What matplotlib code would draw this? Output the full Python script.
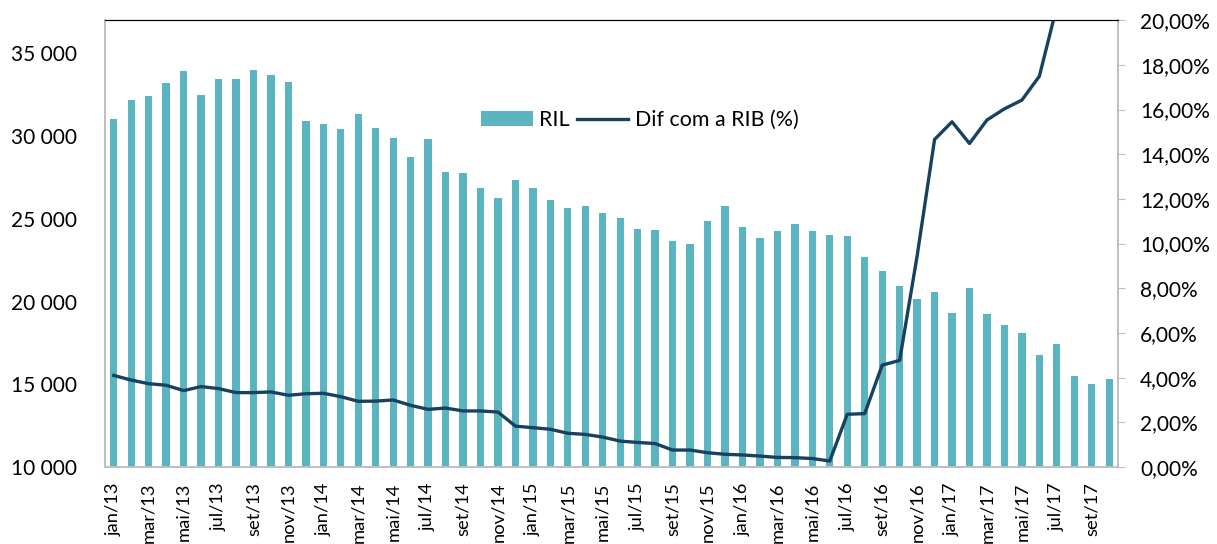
"""
RIL bars with the difference to RIB (%) on a secondary axis.
"""

import matplotlib
matplotlib.use("Agg")
import matplotlib.pyplot as plt
import numpy as np
from matplotlib.ticker import FuncFormatter

plt.rcParams["font.family"] = ["Lato", "DejaVu Sans"]

months = ["jan", "fev", "mar", "abr", "mai", "jun", "jul", "ago", "set", "out", "nov", "dez"]
labels = [f"{m}/{y}" for y in ["13", "14", "15", "16", "17"] for m in months][:58]

ril = [
    31020, 32160, 32420, 33200, 33910, 32480, 33430, 33430, 33970, 33710, 33270, 30890,
    30750, 30430, 31320, 30510, 29850, 28740, 29790, 27830, 27750, 26830, 26240, 27350,
    26830, 26120, 25640, 25760, 25360, 25060, 24370, 24350, 23650, 23470, 24860, 25760,
    24530, 23850, 24250, 24690, 24270, 24010, 23930, 22660, 21820, 20950, 20140, 20590,
    19300, 20810, 19240, 18570, 18090, 16740, 17410, 15500, 15010, 15290,
]

# last three months run off the top of the chart and cannot be read
dif_rib = [
    4.10, 3.89, 3.73, 3.66, 3.42, 3.60, 3.51, 3.33, 3.33, 3.36, 3.21, 3.28,
    3.30, 3.15, 2.94, 2.95, 3.00, 2.76, 2.58, 2.64, 2.51, 2.51, 2.46, 1.83,
    1.76, 1.69, 1.51, 1.46, 1.34, 1.16, 1.10, 1.05, 0.76, 0.76, 0.64, 0.57,
    0.54, 0.49, 0.43, 0.42, 0.38, 0.27, 2.36, 2.39, 4.56, 4.77, 9.44, 14.66,
    15.45, 14.48, 15.53, 16.03, 16.42, 17.49, 20.6, np.nan, np.nan, np.nan,
]

bar_color = "#5AB5C0"
line_color = "#17415F"
axis_gray = "#BFBFBF"

fig, ax1 = plt.subplots(figsize=(12.17, 5.44), dpi=100)
fig.subplots_adjust(left=0.0863, right=0.9186, top=0.963, bottom=0.1415)

x = np.arange(len(ril))
bars = ax1.bar(x, ril, width=0.42, color=bar_color, label="RIL")
ax1.set_xlim(-0.5, len(ril) - 0.5)
ax1.set_ylim(10000, 37000)
ax1.set_yticks(range(10000, 35001, 5000))
ax1.yaxis.set_major_formatter(FuncFormatter(lambda v, p: f"{int(v):,}".replace(",", " ")))
ax1.set_xticks(x[::2])
ax1.set_xticklabels(labels[::2], rotation=90)
ax1.tick_params(axis="x", length=0, pad=11, labelsize=13.2)
ax1.tick_params(axis="y", length=0, pad=20, labelsize=15)

ax2 = ax1.twinx()
line, = ax2.plot(x, dif_rib, color=line_color, linewidth=2.4, label="Dif com a RIB (%)")
ax2.set_ylim(0, 20)
ax2.set_yticks(range(0, 21, 2))
ax2.yaxis.set_major_formatter(FuncFormatter(lambda v, p: f"{v:.2f}".replace(".", ",") + "%"))
ax2.tick_params(axis="y", length=5, color=axis_gray, pad=11, labelsize=15)

for ax in (ax1, ax2):
    ax.spines["top"].set_color("black")
    ax.spines["top"].set_linewidth(0.8)
    for side in ("left", "right", "bottom"):
        ax.spines[side].set_color(axis_gray)
        ax.spines[side].set_linewidth(1.2)

ax2.legend(
    [bars, line], ["RIL", "Dif com a RIB (%)"],
    loc="center", bbox_to_anchor=(0.528, 0.776), ncol=2, frameon=False,
    fontsize=15.4, handlelength=2.4, handleheight=0.7, handletextpad=0.3, columnspacing=0.35,
)

plt.savefig("out.png", dpi=100)
